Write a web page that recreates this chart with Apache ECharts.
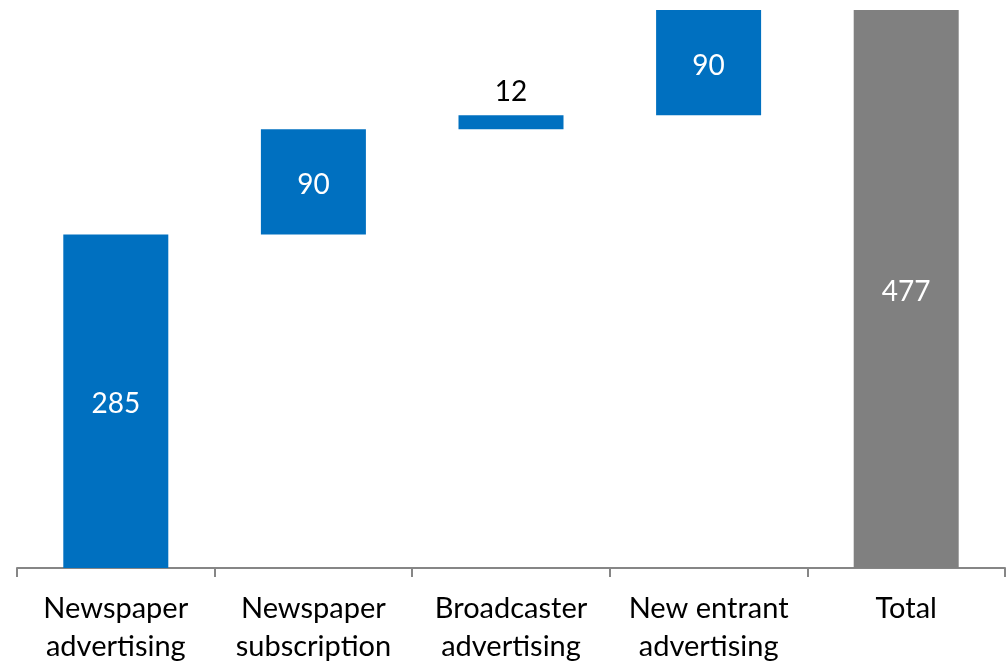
<!DOCTYPE html>
<html>
<head>
<meta charset="utf-8">
<script src="https://cdn.jsdelivr.net/npm/echarts@6/dist/echarts.min.js"></script>
<style>
  html, body { margin: 0; padding: 0; background: #fff; }
  #chart { width: 1008px; height: 663px; }
</style>
</head>
<body>
<div id="chart"></div>
<script>
// Revenue bridge: contributions stack up to the total
const categories = [
  'Newspaper\nadvertising',
  'Newspaper\nsubscription',
  'Broadcaster\nadvertising',
  'New entrant\nadvertising',
  'Total'
];
const steps = [285, 90, 12, 90];
const total = 477;

const BLUE = '#0070C0';
const GREY = '#808080';
const FONT = 'Lato, "Open Sans", sans-serif';

// invisible offsets so each step starts where the previous one ended
const offsets = [];
let running = 0;
steps.forEach(v => { offsets.push(running); running += v; });
offsets.push(0);

const insideLabel = { position: 'inside', color: '#fff', offset: [0, 3] };
const visible = steps.map(v => ({
  value: v,
  itemStyle: { color: BLUE },
  label: v < 30
    ? { position: 'top', color: '#000', distance: 9 }
    : insideLabel
}));
visible.push({ value: total, itemStyle: { color: GREY }, label: insideLabel });

const chart = echarts.init(document.getElementById('chart'));
chart.setOption({
  animation: false,
  grid: { left: 17, right: 3, top: 10, bottom: 95, containLabel: false, outerBoundsMode: 'none' },
  xAxis: {
    type: 'category',
    data: categories,
    axisLine: { lineStyle: { color: '#868686', width: 2 } },
    axisTick: { show: true, length: 9, lineStyle: { color: '#868686', width: 2 } },
    axisLabel: {
      margin: 22,
      fontFamily: FONT,
      fontSize: 29,
      lineHeight: 38,
      color: '#000',
      interval: 0
    }
  },
  yAxis: {
    type: 'value',
    min: 0,
    max: total,
    show: false
  },
  series: [
    {
      type: 'bar',
      stack: 'bridge',
      data: offsets,
      itemStyle: { color: 'transparent' },
      barWidth: 105,
      silent: true
    },
    {
      type: 'bar',
      stack: 'bridge',
      data: visible,
      barWidth: 105,
      label: {
        show: true,
        fontFamily: FONT,
        fontSize: 28
      }
    }
  ]
});
</script>
</body>
</html>
